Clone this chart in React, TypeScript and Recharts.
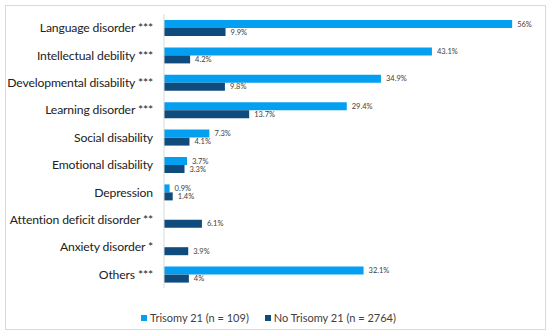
import { BarChart, Bar, XAxis, YAxis, Legend, LabelList } from "recharts";

const categories = [
  "Language disorder ***",
  "Intellectual debility ***",
  "Developmental disability ***",
  "Learning disorder ***",
  "Social disability",
  "Emotional disability",
  "Depression",
  "Attention deficit disorder **",
  "Anxiety disorder *",
  "Others ***",
];
const trisomy = [56, 43.1, 34.9, 29.4, 7.3, 3.7, 0.9, 0, 0, 32.1];
const noTrisomy = [9.9, 4.2, 9.8, 13.7, 4.1, 3.3, 1.4, 6.1, 3.9, 4];

const series = [
  { key: "t21", name: "Trisomy 21 (n = 109)", color: "#049ff0" },
  { key: "no", name: "No Trisomy 21 (n = 2764)", color: "#0f4c7d" },
];

const rows = categories.map((name, i) => ({ name, t21: trisomy[i], no: noTrisomy[i] }));

const font = "Lato, 'Open Sans', sans-serif";
const pct = (v: any) => `${v}%`;

function CatTick(props: any) {
  const { x, y, payload } = props;
  return (
    <text x={x} y={y} dy={4.5} textAnchor="end" fontSize={12.2} letterSpacing={-0.15} fill="#222" fontFamily={font}>
      {payload.value}
    </text>
  );
}

function LegendBox() {
  return (
    <div style={{ display: "flex", justifyContent: "center", gap: 16, fontSize: 11, color: "#404040", fontFamily: font }}>
      {series.map((s) => (
        <span key={s.key} style={{ display: "flex", alignItems: "center" }}>
          <span style={{ width: 6, height: 6, background: s.color, marginRight: 3 }} />
          {s.name}
        </span>
      ))}
    </div>
  );
}

export default function App() {
  return (
    <div style={{ position: "absolute", left: 0, top: 0, width: 550, height: 334, background: "#fff", fontFamily: font }}>
      <div style={{ position: "absolute", left: 5, top: 5, width: 539, height: 323, border: "1px solid #d9d9d9" }} />
      <BarChart
        width={550}
        height={334}
        data={rows}
        layout="vertical"
        margin={{ top: 14, right: 13, bottom: 33, left: 0 }}
        barSize={8}
        barGap={0}
      >
        <XAxis type="number" domain={[0, 60]} hide />
        <YAxis
          type="category"
          dataKey="name"
          width={164}
          axisLine={{ stroke: "#d9d9d9" }}
          tickLine={false}
          tickMargin={5}
          interval={0}
          tick={<CatTick />}
        />
        <Legend verticalAlign="bottom" wrapperStyle={{ bottom: 10 }} content={<LegendBox />} />
        {series.map((s) => (
          <Bar key={s.key} dataKey={s.key} name={s.name} fill={s.color} isAnimationActive={false}>
            <LabelList dataKey={s.key} position="right" offset={5} formatter={pct} style={{ fontSize: 7.5, fill: "#404040", fontFamily: font }} />
          </Bar>
        ))}
      </BarChart>
    </div>
  );
}
